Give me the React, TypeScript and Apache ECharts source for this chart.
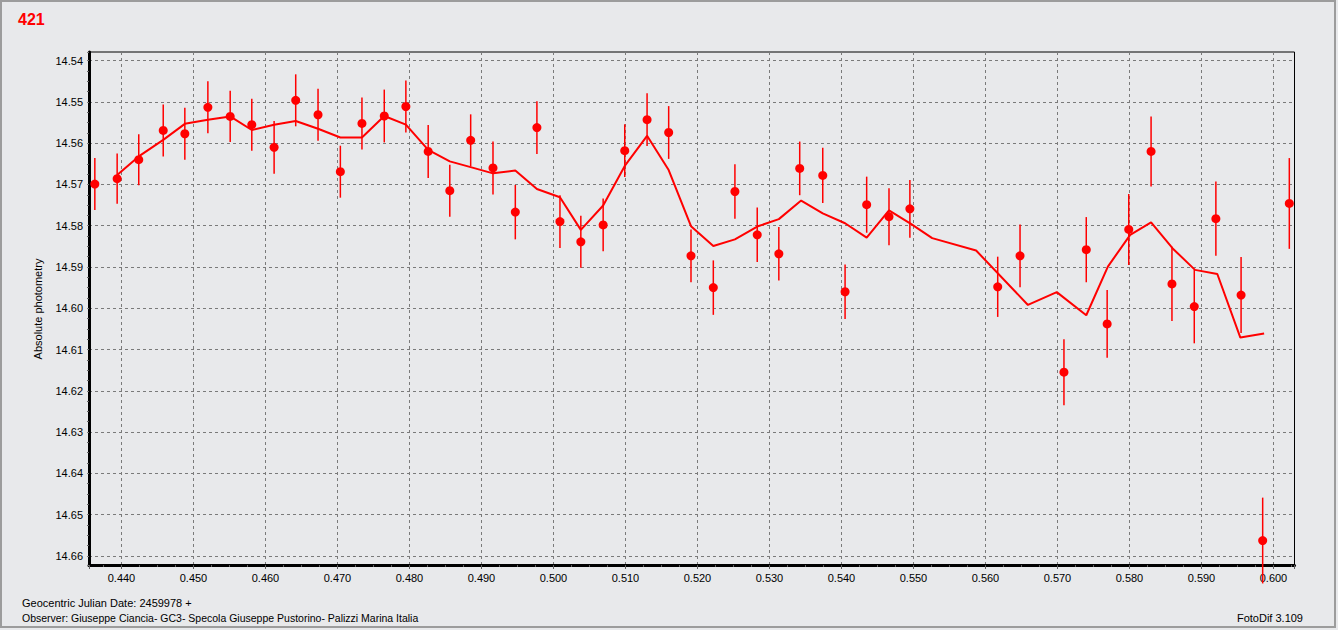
import React, { useEffect, useRef } from "react";
import * as echarts from "echarts";

// Observed points (Geocentric JD - 2459978), magnitude, error
const pointX = [
  0.4363, 0.4394, 0.4424, 0.4458, 0.4488, 0.4520, 0.4551, 0.4581, 0.4612, 0.4642,
  0.4673, 0.4704, 0.4734, 0.4765, 0.4795, 0.4826, 0.4856, 0.4885, 0.4916, 0.4947,
  0.4977, 0.5009, 0.5038, 0.5069, 0.5099, 0.5130, 0.5160, 0.5191, 0.5222, 0.5252,
  0.5283, 0.5313, 0.5342, 0.5374, 0.5405, 0.5435, 0.5466, 0.5495, 0.5617, 0.5648,
  0.5709, 0.5740, 0.5769, 0.5799, 0.5830, 0.5859, 0.5890, 0.5920, 0.5955, 0.5985,
  0.6022,
];
const pointY = [
  14.5699, 14.5686, 14.5640, 14.5569, 14.5577, 14.5513, 14.5535, 14.5555, 14.5610, 14.5496,
  14.5531, 14.5669, 14.5552, 14.5534, 14.5511, 14.5620, 14.5715, 14.5593, 14.5660, 14.5767,
  14.5562, 14.5790, 14.5839, 14.5798, 14.5618, 14.5543, 14.5574, 14.5873, 14.5950, 14.5717,
  14.5822, 14.5868, 14.5661, 14.5678, 14.5960, 14.5749, 14.5778, 14.5759, 14.5948, 14.5873,
  14.6155, 14.5858, 14.6038, 14.5809, 14.5620, 14.5941, 14.5996, 14.5783, 14.5968, 14.6563,
  14.5746,
];
const pointErr = [
  0.0063, 0.0061, 0.0062, 0.0063, 0.0063, 0.0063, 0.0062, 0.0063, 0.0064, 0.0063,
  0.0063, 0.0063, 0.0063, 0.0064, 0.0063, 0.0064, 0.0063, 0.0063, 0.0064, 0.0066,
  0.0064, 0.0064, 0.0063, 0.0064, 0.0064, 0.0064, 0.0064, 0.0064, 0.0066, 0.0066,
  0.0066, 0.0065, 0.0065, 0.0067, 0.0066, 0.0068, 0.0069, 0.0070, 0.0073, 0.0076,
  0.0080, 0.0079, 0.0082, 0.0086, 0.0085, 0.0090, 0.0089, 0.0090, 0.0092, 0.0104,
  0.0110,
];

// Fitted curve
const fitX = [
  0.4394, 0.4424, 0.4458, 0.4488, 0.4520, 0.4551, 0.4581, 0.4612, 0.4642, 0.4673,
  0.4704, 0.4734, 0.4765, 0.4795, 0.4826, 0.4856, 0.4885, 0.4916, 0.4947, 0.4977,
  0.5009, 0.5038, 0.5069, 0.5099, 0.5130, 0.5160, 0.5191, 0.5222, 0.5252, 0.5283,
  0.5313, 0.5344, 0.5374, 0.5405, 0.5435, 0.5466, 0.5497, 0.5526, 0.5587, 0.5659,
  0.5699, 0.5740, 0.5770, 0.5801, 0.5830, 0.5860, 0.5891, 0.5922, 0.5954, 0.5987,
];
const fitY = [
  14.5677, 14.5632, 14.5592, 14.5553, 14.5543, 14.5535, 14.5568, 14.5555, 14.5546, 14.5565,
  14.5586, 14.5586, 14.5534, 14.5555, 14.5616, 14.5644, 14.5658, 14.5673, 14.5666, 14.5711,
  14.5731, 14.5810, 14.5751, 14.5655, 14.5582, 14.5665, 14.5801, 14.5849, 14.5833, 14.5802,
  14.5784, 14.5739, 14.5770, 14.5794, 14.5829, 14.5763, 14.5796, 14.5830, 14.5860, 14.5992,
  14.5961, 14.6017, 14.5899, 14.5822, 14.5792, 14.5855, 14.5907, 14.5917, 14.6071, 14.6061,
];

const chartTitle = "421";
const yAxisName = "Absolute photometry";
const footer1 = "Geocentric Julian Date: 2459978 +";
const footer2 = "Observer: Giuseppe Ciancia- GC3- Specola Giuseppe Pustorino- Palizzi Marina Italia";
const footerRight = "FotoDif 3.109";

const FONT = "'Liberation Sans', Arial, sans-serif";
const RED = "#ff0000";

function isMajor(v: number, step: number) {
  const k = v / step;
  return Math.abs(k - Math.round(k)) < 1e-6;
}

export default function App() {
  const ref = useRef<HTMLDivElement>(null);
  useEffect(() => {
    document.body.style.margin = "0";
    const chart = echarts.init(ref.current!, null, { renderer: "svg" });
    const errData = pointX.map((x, i) => [x, pointY[i] - pointErr[i], pointY[i] + pointErr[i]]);
    const pts = pointX.map((x, i) => [x, pointY[i]]);
    const fit = fitX.map((x, i) => [x, fitY[i]]);
    const option: any = {
      animation: false,
      backgroundColor: "#e8e9eb",
      textStyle: { fontFamily: FONT },
      grid: {
        left: 89,
        top: 52,
        right: 43.5,
        bottom: 65,
        show: true,
        borderColor: "#000",
        borderWidth: 1,
        backgroundColor: "transparent",
      },
      xAxis: {
        type: "value",
        min: 0.43549,
        max: 0.60292,
        splitNumber: 17,
        minInterval: 0.01,
        maxInterval: 0.01,
        axisLine: { show: true, onZero: false, lineStyle: { color: "#000", width: 3 } },
        axisTick: { show: true, length: 4, lineStyle: { color: "#606060" } },
        minorTick: { show: true, splitNumber: 4, length: 2, lineStyle: { color: "#606060" } },
        axisLabel: {
          color: "#000",
          fontSize: 11,
          fontFamily: FONT,
          margin: 7,
          showMinLabel: true,
          showMaxLabel: true,
          formatter: (v: number) => (isMajor(v, 0.01) ? v.toFixed(3) : ""),
        },
        splitLine: {
          show: true,
          showMinLine: false,
          showMaxLine: false,
          lineStyle: { color: "#7a7a7a", type: [3, 3], width: 1 },
        },
      },
      yAxis: {
        type: "value",
        inverse: true,
        min: 14.53789,
        max: 14.66223,
        splitNumber: 12,
        minInterval: 0.01,
        maxInterval: 0.01,
        axisLine: { show: true, onZero: false, lineStyle: { color: "#000", width: 3 } },
        axisTick: { show: true, length: 4, lineStyle: { color: "#7a7a7a", type: [2, 2] } },
        minorTick: { show: true, splitNumber: 4, length: 2, lineStyle: { color: "#606060" } },
        axisLabel: {
          color: "#000",
          fontSize: 11,
          fontFamily: FONT,
          margin: 6,
          formatter: (v: number) => (isMajor(v, 0.01) ? v.toFixed(2) : ""),
        },
        splitLine: {
          show: true,
          showMinLine: false,
          showMaxLine: false,
          lineStyle: { color: "#7a7a7a", type: [3, 3], width: 1 },
        },
      },
      graphic: [
        {
          type: "rect",
          silent: true,
          shape: { x: 1, y: 1, width: 1334, height: 626 },
          style: { fill: "transparent", stroke: "#9c9c9c", lineWidth: 2 },
          z: 100,
        },
        {
          type: "text",
          left: 18,
          top: 11,
          style: { text: chartTitle, fill: RED, font: `bold 16px ${FONT}` },
        },
        {
          type: "text",
          x: 38,
          y: 309,
          rotation: Math.PI / 2,
          style: {
            text: yAxisName,
            fill: "#000",
            font: `11px ${FONT}`,
            textAlign: "center",
            textVerticalAlign: "middle",
          },
        },
        {
          type: "text",
          x: 22,
          y: 603,
          style: { text: footer1, fill: "#000", font: `11px ${FONT}`, textVerticalAlign: "middle" },
        },
        {
          type: "text",
          x: 22,
          y: 618,
          style: { text: footer2, fill: "#000", font: `10.5px ${FONT}`, textVerticalAlign: "middle" },
        },
        {
          type: "text",
          x: 1303,
          y: 618,
          style: {
            text: footerRight,
            fill: "#000",
            font: `11px ${FONT}`,
            textAlign: "right",
            textVerticalAlign: "middle",
          },
        },
      ],
      series: [
        {
          type: "custom",
          name: "errors",
          data: errData,
          z: 2,
          renderItem: (params: any, api: any) => {
            const x = api.value(0);
            const a = api.coord([x, api.value(1)]);
            const b = api.coord([x, api.value(2)]);
            return {
              type: "line",
              shape: { x1: a[0], y1: a[1], x2: b[0], y2: b[1] },
              style: { stroke: RED, lineWidth: 1.5 },
            };
          },
        },
        {
          type: "line",
          name: "fit",
          data: fit,
          showSymbol: false,
          symbol: "none",
          z: 3,
          lineStyle: { color: RED, width: 2 },
        },
        {
          type: "scatter",
          name: "points",
          data: pts,
          symbol: "circle",
          symbolSize: 9,
          z: 4,
          itemStyle: { color: RED, opacity: 1 },
        },
      ],
    };
    chart.setOption(option);
    return () => chart.dispose();
  }, []);
  return <div ref={ref} style={{ position: "fixed", left: 0, top: 0, width: 1338, height: 630 }} />;
}
